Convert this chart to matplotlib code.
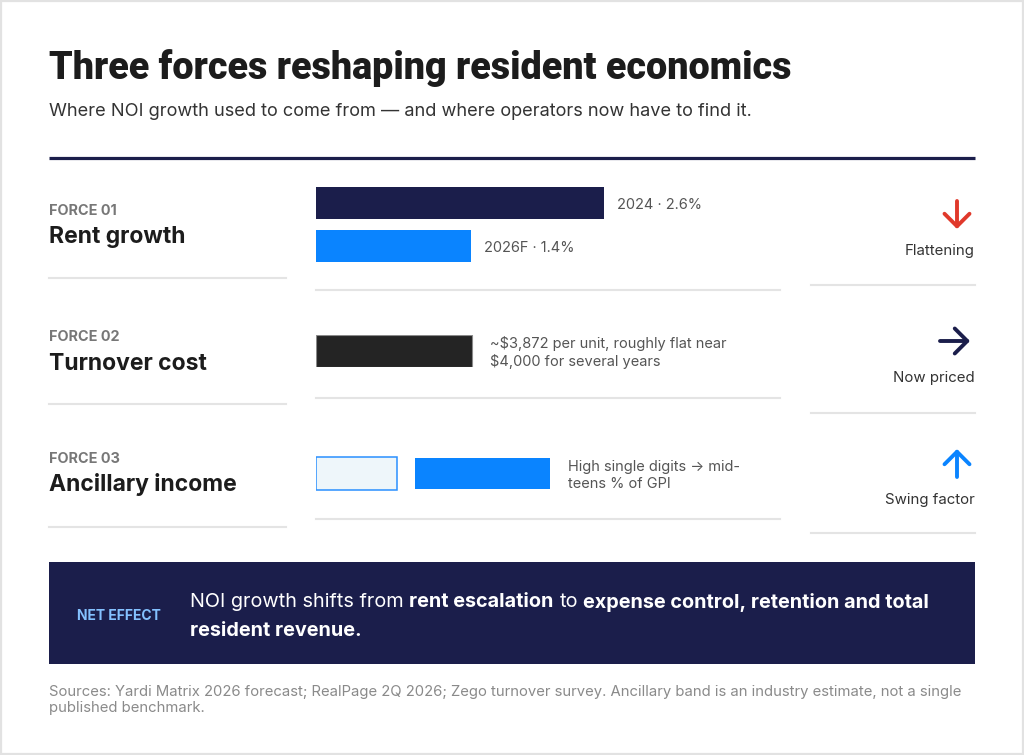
import matplotlib
matplotlib.use("Agg")
import matplotlib.pyplot as plt
from matplotlib.patches import Rectangle

# === Data ===
rent_years = ["2024", "2026F"]
rent_growth = [2.6, 1.4]            # % y/y
turnover_cost = 3872                # $ per unit
turnover_ref = 4000                 # $ per unit, multi-year level
ancillary_band = [9, 15]            # % of GPI: high single digits -> mid-teens
force_ids = ["FORCE 01", "FORCE 02", "FORCE 03"]
force_names = ["Rent growth", "Turnover cost", "Ancillary income"]
verdicts = ["Flattening", "Now priced", "Swing factor"]

# === Style ===
NAVY = "#1b1e4b"
BLUE = "#0a84ff"
RED = "#e0392b"
INK = "#1c1c1c"
RULE = "#e4e4e4"
BODY = ["Inter", "DejaVu Sans"]
HEAD = ["Roboto", "DejaVu Sans"]
DY = 2  # va="center" sits a touch high for cap-height text

W, H = 1024, 755
fig = plt.figure(figsize=(W / 100, H / 100), dpi=100)
fig.patch.set_facecolor("white")
ax = fig.add_axes([0, 0, 1, 1])
ax.set_xlim(0, W)
ax.set_ylim(H, 0)
ax.axis("off")


def px_axes(x0, y0, x1, y1):
    # axes placed by pixel box (top-left origin)
    a = fig.add_axes([x0 / W, 1 - y1 / H, (x1 - x0) / W, (y1 - y0) / H])
    a.axis("off")
    return a


# outer frame
ax.add_patch(Rectangle((1, 1), W - 2, H - 2, fill=False, ec="#e2e2e2", lw=1.6))

# === Header ===
ax.text(49, 66 + DY, "Three forces reshaping resident economics", family=HEAD,
        fontweight=900, fontsize=27.2, color=INK, va="center", ha="left")
ax.text(49, 110 + DY, "Where NOI growth used to come from \u2014 and where operators now have to find it.",
        family=BODY, fontsize=13.1, color="#333333", va="center", ha="left")
ax.plot([49, 975], [158, 158], color=NAVY, lw=2.3, solid_capstyle="butt")

# === Left column: force names ===
id_y = [209, 335, 457]
name_y = [235, 362, 483]
left_rule_y = [278, 404, 527]
for fid, name, yi, yn, yr in zip(force_ids, force_names, id_y, name_y, left_rule_y):
    ax.text(49, yi + DY, fid, family=BODY, fontweight="bold", fontsize=10.4,
            color="#777777", va="center")
    ax.text(49, yn + DY, name, family=BODY, fontweight="bold", fontsize=16.5,
            color=INK, va="center")
    ax.plot([49, 286], [yr, yr], color=RULE, lw=1.5)

# middle and right column rules
for yr in [290, 398, 519]:
    ax.plot([316, 780], [yr, yr], color=RULE, lw=1.5)
for yr in [285, 413, 533]:
    ax.plot([811, 975], [yr, yr], color=RULE, lw=1.5)

LABEL = dict(family=BODY, fontsize=10.5, color="#555555", va="center", ha="left",
             textcoords="offset points")

# === Row 1: rent growth bars ===
rx = px_axes(316, 187, 780, 262)
rx.set_xlim(0, 4.19)
rx.set_ylim(1.372, -0.372)
rx.barh(range(len(rent_growth)), rent_growth, height=0.744,
        color=[NAVY, BLUE], edgecolor="none")
for i, (yr_lbl, v) in enumerate(zip(rent_years, rent_growth)):
    rx.annotate(f"{yr_lbl} \u00b7 {v:.1f}%", xy=(v, i), xytext=(9.4, -1.2), **LABEL)

# === Row 2: turnover cost bar ===
tx = px_axes(316, 335, 780, 367)
tx.set_xlim(0, 11517)
tx.set_ylim(0.5, -0.5)
tx.barh([0], [turnover_cost], height=1.0, color="#242424", edgecolor="#8a8a8a", lw=0.8)
tx.annotate(f"~${turnover_cost:,} per unit, roughly flat near\n${turnover_ref:,} for several years",
            xy=(turnover_cost, 0), xytext=(13, -1.2), linespacing=1.3, **LABEL)

# === Row 3: ancillary income band ===
gap = 2
axx = px_axes(316, 456, 780, 491)
axx.set_xlim(0, 51.5)
axx.set_ylim(0.5, -0.5)
axx.barh([0], [ancillary_band[0]], height=0.96, color="#eef6fa", edgecolor="#2a90ff", lw=1.1)
axx.barh([0], [ancillary_band[1]], left=ancillary_band[0] + gap, height=0.91,
         color=BLUE, edgecolor="none")
axx.annotate("High single digits \u2192 mid-\nteens % of GPI",
             xy=(ancillary_band[0] + gap + ancillary_band[1], 0), xytext=(12.5, -1.2),
             linespacing=1.3, **LABEL)

# === Right column: direction arrows + verdicts ===
arrows = [((957, 229), (957, 201), RED),
          ((970, 341), (940, 341), NAVY),
          ((957, 449), (957, 477), BLUE)]
for (head, tail, col) in arrows:
    ax.annotate("", xy=head, xytext=tail,
                arrowprops=dict(arrowstyle="->,head_length=0.45,head_width=0.45",
                                color=col, lw=2.8, shrinkA=0, shrinkB=0,
                                mutation_scale=20, capstyle="round", joinstyle="round"))
for v, yv in zip(verdicts, [249, 376, 498]):
    ax.text(975, yv + DY, v, family=BODY, fontsize=10.8, color="#333333", va="center", ha="right")

# === Net effect banner ===
ax.add_patch(Rectangle((49, 562), 926, 102, color=NAVY, lw=0))
ax.text(77, 614 + DY, "NET EFFECT", family=BODY, fontweight="bold", fontsize=10,
        color="#84c1ff", va="center")

renderer = fig.canvas.get_renderer()


def text_width(s, weight, size):
    t = ax.text(0, 0, s, family=BODY, fontweight=weight, fontsize=size)
    w = t.get_window_extent(renderer).width
    t.remove()
    return w


def draw_runs(x, y, runs, size, color):
    sp = text_width("x x", "normal", size) - text_width("xx", "normal", size)
    for s, bold in runs:
        wt = "bold" if bold else "normal"
        ax.text(x, y, s, family=BODY, fontweight=wt, fontsize=size, color=color, va="center")
        x += text_width(s, wt, size) + sp


NE = 14.3
draw_runs(190, 600 + DY, [("NOI growth shifts from", False), ("rent escalation", True),
                          ("to", False), ("expense control, retention and total", True)], NE, "white")
draw_runs(190, 629 + DY, [("resident revenue.", True)], NE, "white")

# === Sources ===
ax.text(49, 698 + DY, "Sources: Yardi Matrix 2026 forecast; RealPage 2Q 2026; Zego turnover survey. "
        "Ancillary band is an industry estimate, not a single\npublished benchmark.",
        family=BODY, fontsize=10.7, color="#8a8a8a", va="center", linespacing=1.2)

fig.savefig("out.png", dpi=100)
